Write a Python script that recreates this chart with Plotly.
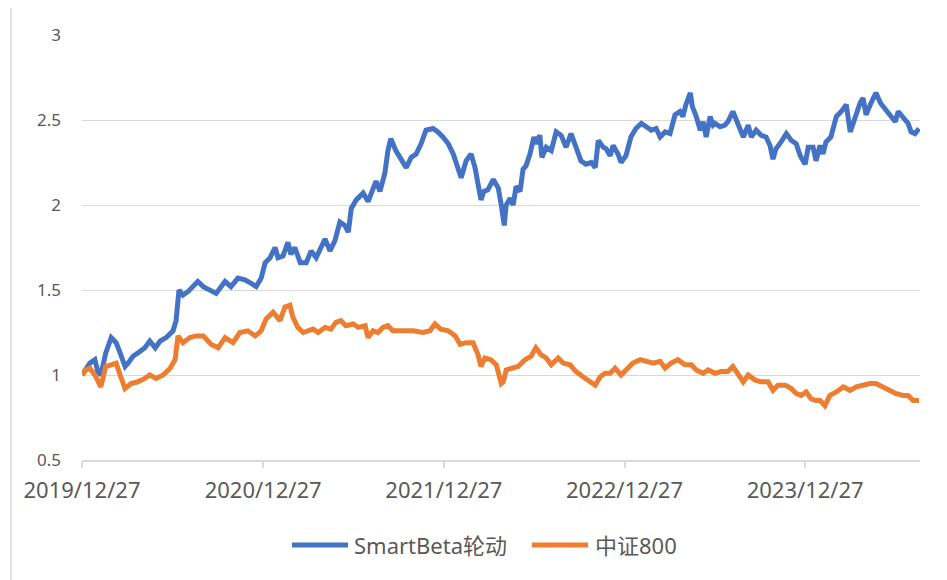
import pandas as pd
import plotly.graph_objects as go

start_date = "2019-12-27"

# day offsets from 2019/12/27 and values
smart_days = [0, 8, 16, 26, 32, 38, 48, 59, 69, 77, 87, 93, 103, 113, 127, 137, 148, 158, 170, 184,
              190, 196, 204, 214, 224, 234, 245, 259, 271, 289, 301, 315, 329, 341, 352, 362, 370, 380,
              390, 396, 406, 416, 422, 430, 441, 453, 463, 473, 491, 501, 511, 521, 531, 538, 544, 554,
              568, 578, 588, 594, 602, 612, 618, 624, 634, 645, 655, 665, 675, 685, 695, 709, 719, 729,
              740, 750, 760, 766, 776, 786, 794, 800, 806, 812, 820, 831, 841, 847, 853, 857, 865, 871,
              877, 885, 891, 897, 905, 913, 917, 925, 929, 938, 948, 958, 968, 978, 988, 998, 1008, 1018,
              1029, 1037, 1043, 1053, 1059, 1067, 1073, 1083, 1089, 1099, 1109, 1119, 1130, 1140, 1150,
              1160, 1168, 1178, 1188, 1198, 1208, 1214, 1220, 1229, 1233, 1241, 1249, 1255, 1261, 1269,
              1275, 1279, 1289, 1299, 1305, 1315, 1322, 1330, 1336, 1346, 1352, 1362, 1372, 1382, 1390,
              1396, 1402, 1412, 1423, 1433, 1443, 1451, 1461, 1467, 1477, 1483, 1491, 1497, 1503, 1513,
              1524, 1534, 1544, 1552, 1562, 1572, 1578, 1584, 1594, 1604, 1613, 1623, 1633, 1643, 1649,
              1659, 1669, 1675, 1683, 1691]
smart_vals = [1.00, 1.04, 1.07, 1.09, 1.02, 1.00, 1.13, 1.22, 1.19, 1.13, 1.05, 1.07, 1.11, 1.13, 1.16,
              1.20, 1.16, 1.20, 1.22, 1.26, 1.32, 1.50, 1.47, 1.49, 1.52, 1.55, 1.52, 1.50, 1.48, 1.55,
              1.52, 1.57, 1.56, 1.54, 1.52, 1.57, 1.66, 1.69, 1.75, 1.69, 1.70, 1.78, 1.71, 1.75, 1.66,
              1.66, 1.73, 1.69, 1.80, 1.73, 1.79, 1.90, 1.88, 1.84, 1.98, 2.03, 2.07, 2.02, 2.09, 2.14,
              2.08, 2.19, 2.32, 2.39, 2.32, 2.26, 2.22, 2.28, 2.30, 2.36, 2.44, 2.45, 2.43, 2.40, 2.36,
              2.30, 2.22, 2.16, 2.26, 2.30, 2.22, 2.13, 2.03, 2.08, 2.09, 2.15, 2.10, 2.00, 1.88, 2.00,
              2.04, 2.00, 2.11, 2.08, 2.21, 2.23, 2.30, 2.40, 2.36, 2.41, 2.28, 2.34, 2.32, 2.43, 2.41,
              2.34, 2.42, 2.34, 2.26, 2.24, 2.25, 2.22, 2.38, 2.34, 2.33, 2.29, 2.35, 2.30, 2.25, 2.29,
              2.40, 2.45, 2.48, 2.46, 2.44, 2.45, 2.40, 2.43, 2.42, 2.53, 2.55, 2.52, 2.59, 2.66, 2.58,
              2.52, 2.44, 2.49, 2.40, 2.52, 2.47, 2.48, 2.46, 2.47, 2.49, 2.55, 2.50, 2.44, 2.40, 2.47,
              2.40, 2.44, 2.41, 2.40, 2.35, 2.27, 2.33, 2.37, 2.42, 2.38, 2.36, 2.29, 2.24, 2.34, 2.34,
              2.26, 2.35, 2.30, 2.37, 2.40, 2.52, 2.55, 2.59, 2.43, 2.52, 2.60, 2.63, 2.53, 2.60, 2.66,
              2.60, 2.56, 2.53, 2.49, 2.55, 2.51, 2.48, 2.43, 2.42, 2.45]

csi_days = [0, 8, 16, 26, 38, 48, 59, 69, 77, 87, 99, 113, 127, 137, 150, 164, 178, 188, 194, 204,
            218, 230, 245, 261, 275, 289, 305, 319, 335, 350, 362, 372, 386, 400, 410, 420, 426, 436,
            447, 457, 467, 477, 491, 503, 513, 523, 533, 548, 558, 572, 578, 588, 598, 608, 618, 628,
            649, 669, 689, 703, 713, 725, 740, 754, 764, 776, 790, 800, 806, 814, 826, 837, 847, 851,
            857, 871, 881, 895, 907, 917, 927, 938, 948, 962, 972, 986, 998, 1012, 1022, 1037, 1047,
            1057, 1067, 1077, 1089, 1103, 1113, 1128, 1140, 1154, 1168, 1178, 1190, 1204, 1218, 1231,
            1241, 1255, 1265, 1279, 1291, 1305, 1315, 1326, 1336, 1346, 1360, 1372, 1386, 1396, 1406,
            1421, 1433, 1443, 1453, 1463, 1473, 1483, 1491, 1501, 1511, 1524, 1538, 1552, 1564, 1578,
            1592, 1604, 1619, 1633, 1645, 1659, 1669, 1679, 1691]
csi_vals = [1.00, 1.03, 1.04, 1.00, 0.93, 1.05, 1.06, 1.07, 1.00, 0.92, 0.95, 0.96, 0.98, 1.00, 0.98,
            1.00, 1.04, 1.09, 1.23, 1.19, 1.22, 1.23, 1.23, 1.18, 1.16, 1.22, 1.19, 1.25, 1.26, 1.23,
            1.26, 1.33, 1.37, 1.32, 1.40, 1.41, 1.34, 1.28, 1.25, 1.26, 1.27, 1.25, 1.28, 1.27, 1.31,
            1.32, 1.29, 1.30, 1.28, 1.29, 1.22, 1.26, 1.25, 1.28, 1.29, 1.26, 1.26, 1.26, 1.25, 1.26,
            1.30, 1.27, 1.26, 1.23, 1.18, 1.19, 1.19, 1.12, 1.05, 1.10, 1.09, 1.06, 0.95, 0.96, 1.03,
            1.04, 1.05, 1.09, 1.11, 1.16, 1.12, 1.10, 1.06, 1.10, 1.07, 1.06, 1.02, 0.99, 0.97, 0.94,
            0.99, 1.01, 1.01, 1.04, 1.00, 1.04, 1.07, 1.09, 1.08, 1.07, 1.08, 1.04, 1.07, 1.09, 1.06,
            1.06, 1.03, 1.01, 1.03, 1.01, 1.02, 1.02, 1.05, 1.00, 0.96, 1.00, 0.97, 0.96, 0.96, 0.91,
            0.94, 0.94, 0.92, 0.89, 0.88, 0.90, 0.86, 0.85, 0.85, 0.82, 0.88, 0.90, 0.93, 0.91, 0.93,
            0.94, 0.95, 0.95, 0.93, 0.91, 0.89, 0.88, 0.88, 0.85, 0.85]

series_names = ["SmartBeta轮动", "中证800"]
series_colors = ["#4472C4", "#ED7D31"]
tick_dates = ["2019-12-27", "2020-12-27", "2021-12-27", "2022-12-27", "2023-12-27"]
tick_labels = ["2019/12/27", "2020/12/27", "2021/12/27", "2022/12/27", "2023/12/27"]
range_end_day = 1693

t0 = pd.Timestamp(start_date)
smart_x = [t0 + pd.Timedelta(days=d) for d in smart_days]
csi_x = [t0 + pd.Timedelta(days=d) for d in csi_days]

FONT = "Noto Sans, Noto Sans CJK SC, sans-serif"
GRID = "#d9d9d9"
TEXT = "#595959"

# page-pixel helpers (plot area spans x 82..920, y 35..460 in the page)
def px(x):
    return (x - 82) / 838


def py(y):
    return (460 - y) / 425


fig = go.Figure()
fig.add_trace(go.Scatter(x=smart_x, y=smart_vals, mode="lines", name=series_names[0],
                         line=dict(color=series_colors[0], width=5), showlegend=False))
fig.add_trace(go.Scatter(x=csi_x, y=csi_vals, mode="lines", name=series_names[1],
                         line=dict(color=series_colors[1], width=5), showlegend=False))

# legend drawn as shapes + text to match Excel-style long swatches
legend_items = [(292, 348, 352), (532, 588, 593)]
shapes = [
    dict(type="line", xref="paper", yref="paper",
         x0=px(11), x1=px(11), y0=py(5), y1=py(600), line=dict(color=GRID, width=1.5)),
    dict(type="line", xref="paper", yref="paper",
         x0=px(11), x1=px(960), y0=py(5), y1=py(5), line=dict(color=GRID, width=1.5)),
]
annotations = []
for (x0, x1, xt), name, color in zip(legend_items, series_names, series_colors):
    shapes.append(dict(type="line", xref="paper", yref="paper", x0=px(x0), x1=px(x1),
                       y0=py(545), y1=py(545), line=dict(color=color, width=5)))
    annotations.append(dict(xref="paper", yref="paper", x=px(xt), y=py(545), text=name,
                            xanchor="left", yanchor="middle", showarrow=False,
                            font=dict(family=FONT, size=22, color=TEXT)))

fig.update_layout(
    width=947, height=580,
    margin=dict(l=74, r=35, t=27, b=128),
    paper_bgcolor="white", plot_bgcolor="white",
    font=dict(family=FONT, size=17, color=TEXT),
    showlegend=False,
    xaxis=dict(
        type="date",
        range=[t0, t0 + pd.Timedelta(days=range_end_day)],
        tickvals=[pd.Timestamp(d) for d in tick_dates], ticktext=tick_labels,
        tickfont=dict(size=22),
        showgrid=False, showline=True, linecolor=GRID, linewidth=1.5,
        ticks="outside", ticklen=6, tickcolor=GRID, tickwidth=1.5,
        ticklabelstandoff=4, zeroline=False,
    ),
    yaxis=dict(
        range=[0.5, 3.0], tickvals=[0.5, 1, 1.5, 2, 2.5, 3],
        ticktext=["0.5", "1", "1.5", "2", "2.5", "3"],
        tickfont=dict(size=17),
        showgrid=True, gridcolor=GRID, gridwidth=1.2,
        showline=False, zeroline=False, ticks="", ticklabelstandoff=20,
    ),
    shapes=shapes,
    annotations=annotations,
)

fig.write_html("out.html")
